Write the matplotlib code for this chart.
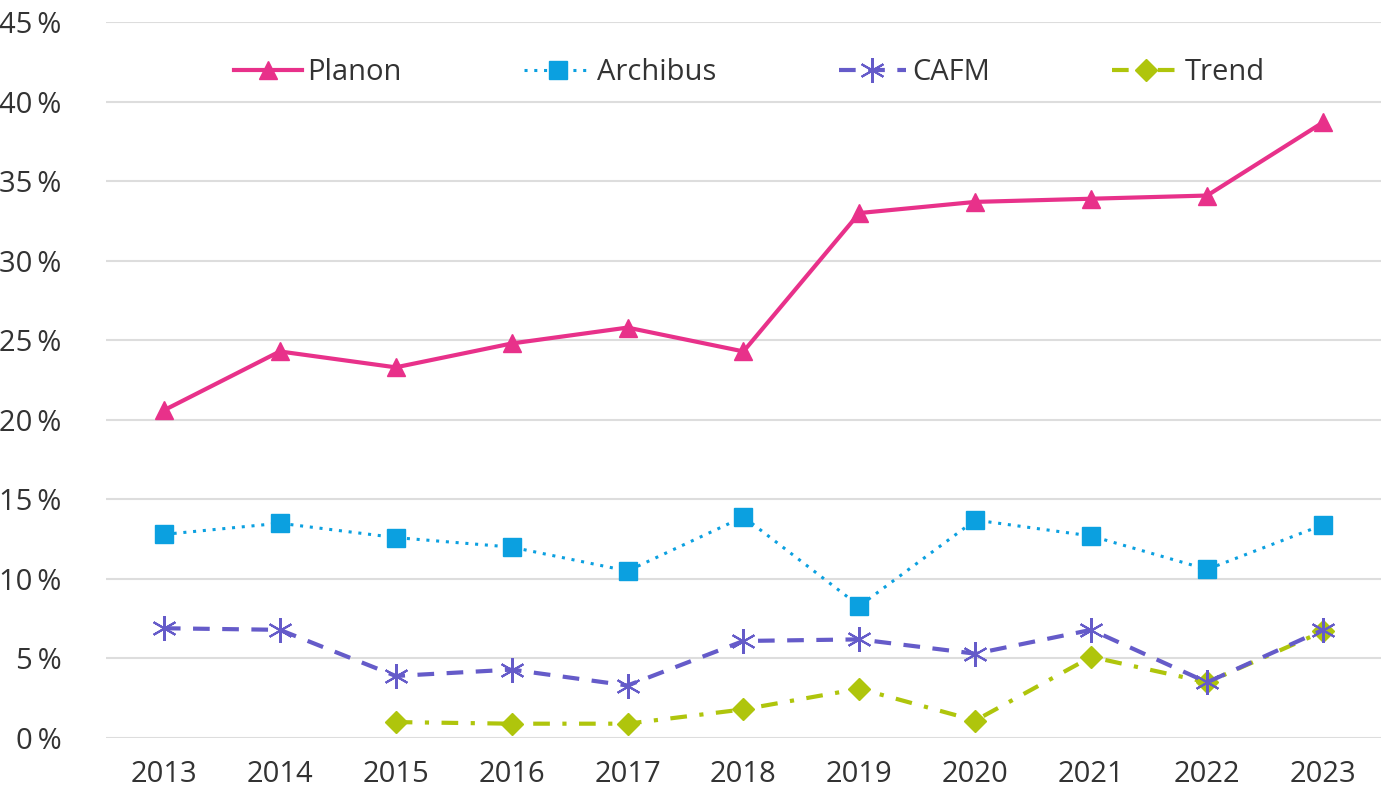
import matplotlib
matplotlib.use("Agg")
import matplotlib.pyplot as plt
from matplotlib.ticker import FuncFormatter

plt.rcParams["font.family"] = ["Open Sans", "DejaVu Sans"]

years = ["2013", "2014", "2015", "2016", "2017", "2018",
         "2019", "2020", "2021", "2022", "2023"]
planon = [20.6, 24.3, 23.3, 24.8, 25.8, 24.3, 33.0, 33.7, 33.9, 34.1, 38.7]
archibus = [12.8, 13.5, 12.6, 12.0, 10.5, 13.9, 8.3, 13.7, 12.7, 10.6, 13.4]
cafm = [6.9, 6.8, 3.9, 4.3, 3.3, 6.1, 6.2, 5.3, 6.8, 3.5, 6.8]
trend_years = ["2015", "2016", "2017", "2018", "2019", "2020", "2021", "2022", "2023"]
trend = [1.0, 0.9, 0.9, 1.8, 3.1, 1.1, 5.1, 3.5, 6.7]

PINK = "#E8318A"
BLUE = "#0BA0E0"
PURPLE = "#655BC9"
GREEN = "#AFC50C"
TEXT = "#333333"
GRID = "#DDDDDD"

fig = plt.figure(figsize=(13.81, 7.91), dpi=100)
ax = fig.add_axes([0.0767, 0.067, 0.9233, 0.905])

x_all = list(range(len(years)))
x_trend = [years.index(y) for y in trend_years]

ax.plot(x_all, planon, color=PINK, linewidth=3, marker="^", markersize=13,
        label="Planon", zorder=5)
ax.plot(x_all, archibus, color=BLUE, linewidth=2.2, linestyle=(0, (1, 2.2)),
        marker="s", markersize=12.5, label="Archibus", zorder=4)
ax.plot(x_all, cafm, color=PURPLE, linewidth=3, linestyle=(0, (4, 3)),
        marker=(6, 2, 0), markersize=18, markeredgewidth=1.5,
        label="CAFM", zorder=4)
ax.plot(x_trend, trend, color=GREEN, linewidth=3, linestyle=(0, (4, 3, 1, 3)),
        marker="D", markersize=11, label="Trend", zorder=3)

ax.set_xlim(-0.5, len(years) - 0.5)
ax.set_ylim(0, 45)
ax.set_xticks(x_all)
ax.set_xticklabels(years)
ax.set_yticks(range(0, 46, 5))
ax.yaxis.set_major_formatter(FuncFormatter(lambda v, p: f"{int(v)}\u2009%"))

ax.grid(axis="y", color=GRID, linewidth=1.5)
ax.set_axisbelow(True)
for s in ["top", "right", "left", "bottom"]:
    ax.spines[s].set_visible(False)
ax.tick_params(axis="both", length=0, labelsize=21, colors=TEXT)
ax.tick_params(axis="y", pad=32)
ax.tick_params(axis="x", pad=16)

# legend sits inside the plot, between the 40 % and 45 % gridlines
ax.legend(loc="center", bbox_to_anchor=(0.505, 0.93), ncol=4, frameon=False,
          fontsize=21, labelcolor=TEXT, columnspacing=4.2, handlelength=2.3,
          handletextpad=0.2)

fig.savefig("out.png", dpi=100)
